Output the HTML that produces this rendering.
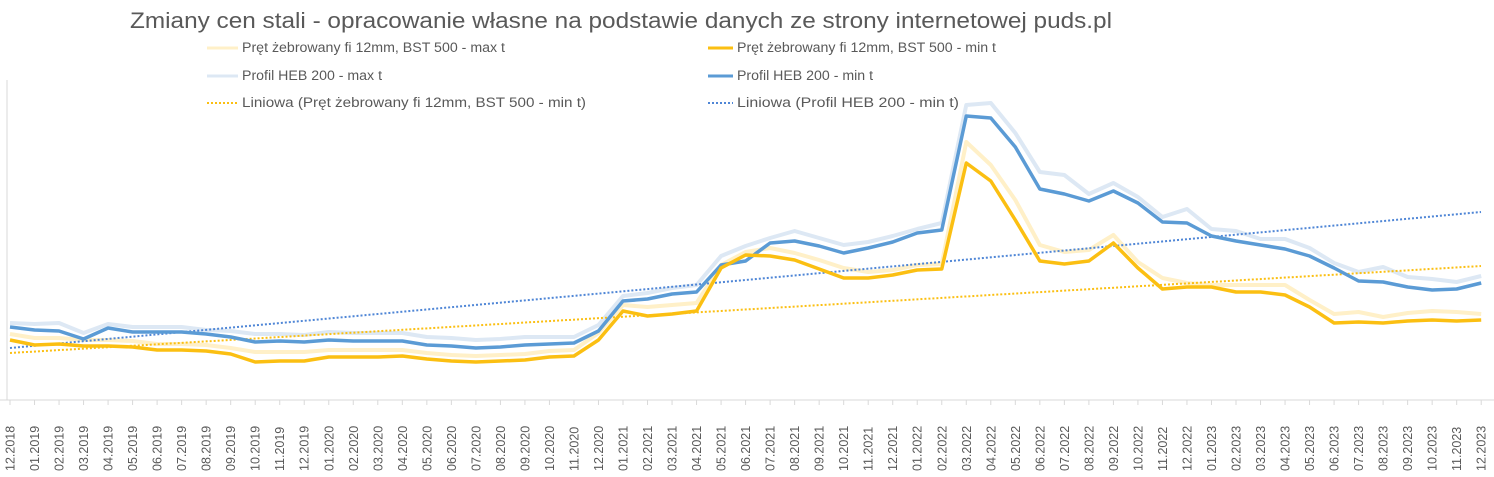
<!DOCTYPE html>
<html><head><meta charset="utf-8"><style>
body{margin:0;background:#fff;}
svg{display:block;font-family:"Liberation Sans",sans-serif;}
</style></head><body>
<svg id="s" width="1494" height="477" xmlns="http://www.w3.org/2000/svg">
<rect width="1494" height="477" fill="#fff"/>
<text x="621" y="28" text-anchor="middle" font-size="22" fill="#595959" textLength="982" lengthAdjust="spacingAndGlyphs">Zmiany cen stali - opracowanie własne na podstawie danych ze strony internetowej puds.pl</text>
<g font-size="13.5" fill="#595959">
<line x1="207" y1="48" x2="238" y2="48" stroke="#fff0c8" stroke-width="3"/><text x="242" y="52" textLength="263" lengthAdjust="spacingAndGlyphs">Pręt żebrowany fi 12mm, BST 500 - max t</text>
<line x1="708" y1="48" x2="733" y2="48" stroke="#fbbf12" stroke-width="3"/><text x="737" y="52" textLength="259" lengthAdjust="spacingAndGlyphs">Pręt żebrowany fi 12mm, BST 500 - min t</text>
<line x1="207" y1="76" x2="238" y2="76" stroke="#dde8f4" stroke-width="3"/><text x="242" y="80" textLength="140" lengthAdjust="spacingAndGlyphs">Profil HEB 200 - max t</text>
<line x1="708" y1="76" x2="733" y2="76" stroke="#5b9bd5" stroke-width="3"/><text x="737" y="80" textLength="136" lengthAdjust="spacingAndGlyphs">Profil HEB 200 - min t</text>
<line x1="207" y1="103" x2="238" y2="103" stroke="#fbbf12" stroke-width="2" stroke-dasharray="2,2"/><text x="242" y="107" textLength="344" lengthAdjust="spacingAndGlyphs">Liniowa (Pręt żebrowany fi 12mm, BST 500 - min t)</text>
<line x1="708" y1="103" x2="733" y2="103" stroke="#4f86d6" stroke-width="2" stroke-dasharray="2,2"/><text x="737" y="107" textLength="222" lengthAdjust="spacingAndGlyphs">Liniowa (Profil HEB 200 - min t)</text>
</g>
<line x1="7" y1="80" x2="7" y2="400" stroke="#d9d9d9"/>
<line x1="0" y1="400" x2="1494" y2="400" stroke="#d9d9d9"/>
<g id="g"></g>
</svg>
<script>
var s=document.getElementById('g'),NS='http://www.w3.org/2000/svg';
function X(i){return 10+24.52*i;}
function pl(d,c,w){var p=document.createElementNS(NS,'polyline');p.setAttribute('points',d.map(function(y,i){return X(i)+','+y}).join(' '));p.setAttribute('fill','none');p.setAttribute('stroke',c);p.setAttribute('stroke-width',w);p.setAttribute('stroke-linejoin','round');s.appendChild(p);}
var bmax=[323,324,323,333,324,327,327,327,330,331,334,334,335,332,333,333,333,337,338,340,339,337,337,337,325,296,293,288,285,256,246,238,231,238,245,242,236,229,223,105,103,133,172,175,194,183,197,217,209,229,231,239,239,248,263,272,267,277,279,282,276];
var ymax=[334,338,338,340,340,341,344,344,345,348,352,352,352,350,350,350,350,353,355,356,355,354,351,350,333,305,307,305,303,265,252,248,253,260,268,272,270,265,264,142,165,200,245,252,250,235,262,278,283,285,285,285,285,300,314,312,317,313,311,312,314];
var bmin=[327,330,331,339,328,332,332,332,334,337,342,341,342,340,341,341,341,345,346,348,347,345,344,343,331,301,299,294,292,265,261,243,241,246,253,248,242,233,230,116,118,147,189,194,201,191,203,222,223,236,241,245,249,256,268,281,282,287,290,289,283];
var ymin=[340,345,344,346,346,347,350,350,351,354,362,361,361,357,357,357,356,359,361,362,361,360,357,356,340,311,316,314,311,268,255,256,260,269,278,278,275,270,269,163,181,220,261,264,261,243,268,289,287,287,292,292,295,307,323,322,323,321,320,321,320];
pl(bmax,'#dde8f4',4);pl(ymax,'#fff0c8',4);
[[353,266,'#fbbf12'],[348,212,'#4f86d6']].forEach(function(a){var l=document.createElementNS(NS,'line');l.setAttribute('x1',10);l.setAttribute('y1',a[0]);l.setAttribute('x2',1481);l.setAttribute('y2',a[1]);l.setAttribute('stroke',a[2]);l.setAttribute('stroke-width',2);l.setAttribute('stroke-dasharray','2,2');s.appendChild(l);});
pl(bmin,'#5b9bd5',3.5);pl(ymin,'#fbbf12',3.5);
for(var i=0;i<=60;i++){var m=(i+11)%12+1,yr=2018+Math.floor((i+11)/12);var lab=(m<10?'0':'')+m+'.'+yr;
var tk=document.createElementNS(NS,'line');tk.setAttribute('x1',X(i));tk.setAttribute('x2',X(i));tk.setAttribute('y1',400);tk.setAttribute('y2',405);tk.setAttribute('stroke','#d9d9d9');s.appendChild(tk);
var t=document.createElementNS(NS,'text');t.setAttribute('transform','translate('+(X(i)+4.5)+',471) rotate(-90)');t.setAttribute('font-size','12.5');t.setAttribute('fill','#595959');t.textContent=lab;s.appendChild(t);}
</script>
</body></html>
